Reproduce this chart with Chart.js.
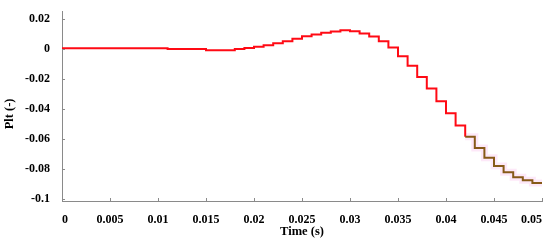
<!DOCTYPE html>
<html>
<head>
<meta charset="utf-8">
<script src="https://cdn.jsdelivr.net/npm/chart.js@4"></script>
<style>
  html, body { margin: 0; padding: 0; background: #fff; }
  #wrap { width: 550px; height: 241px; }
</style>
</head>
<body>
<div id="wrap"><canvas id="pltChart"></canvas></div>
<script>
// time (s), one sample per ms, value held until the next sample
const times = [
  0, 0.001, 0.002, 0.003, 0.004, 0.005, 0.006, 0.007, 0.008, 0.009,
  0.010, 0.011, 0.012, 0.013, 0.014, 0.015, 0.016, 0.017, 0.018, 0.019,
  0.020, 0.021, 0.022, 0.023, 0.024, 0.025, 0.026, 0.027, 0.028, 0.029,
  0.030, 0.031, 0.032, 0.033, 0.034, 0.035, 0.036, 0.037, 0.038, 0.039,
  0.040, 0.041, 0.042, 0.043, 0.044, 0.045, 0.046, 0.047, 0.048, 0.049,
  0.050,
];
const plt = [
  0.0005, 0.0005, 0.0005, 0.0005, 0.0005, 0.0005, 0.0005, 0.0005, 0.0005, 0.0005,
  0.0005, 0.0, 0.0, 0.0, 0.0, -0.0009, -0.0009, -0.0009, 0.0, 0.0007,
  0.0015, 0.0025, 0.0039, 0.0052, 0.0068, 0.0085, 0.0097, 0.0108, 0.0117, 0.0125,
  0.0118, 0.0103, 0.0084, 0.0052, 0.001, -0.0048, -0.0112, -0.0187, -0.0263, -0.0348,
  -0.0428, -0.051, -0.0585, -0.066, -0.0725, -0.0779, -0.0822, -0.0854, -0.0875, -0.0893,
  -0.0893,
];
const xTicks = [0, 0.005, 0.01, 0.015, 0.02, 0.025, 0.03, 0.035, 0.04, 0.045, 0.05];
const xTickLabels = ["0", "0.005", "0.01", "0.015", "0.02", "0.025", "0.03", "0.035", "0.04", "0.045", "0.05"];
const yTicks = [0.02, 0, -0.02, -0.04, -0.06, -0.08, -0.1];
const yTickLabels = ["0.02", "0", "-0.02", "-0.04", "-0.06", "-0.08", "-0.1"];
const brownFrom = 0.042;

const red = "#ff0a14";
const brown = "#875a18";
const axisColor = "#8a8a8a";
const font = { family: "'Liberation Serif', serif", weight: "bold" };

const points = times.map((t, i) => ({ x: t, y: plt[i] }));
const tailPoints = points.filter((p) => p.x >= brownFrom);

// small tick marks pointing into the plot, like the original figure
const innerTicks = {
  id: "innerTicks",
  afterDraw(chart) {
    const { ctx, chartArea, scales } = chart;
    ctx.save();
    ctx.strokeStyle = axisColor;
    ctx.lineWidth = 1;
    ctx.beginPath();
    xTicks.forEach((v) => {
      const px = Math.round(scales.x.getPixelForValue(v)) + 0.5;
      ctx.moveTo(px, chartArea.bottom);
      ctx.lineTo(px, chartArea.bottom - 3);
    });
    yTicks.forEach((v) => {
      const py = Math.round(scales.y.getPixelForValue(v)) + 0.5;
      ctx.moveTo(chartArea.left, py);
      ctx.lineTo(chartArea.left + 3, py);
    });
    ctx.stroke();
    ctx.restore();
  },
};

new Chart(document.getElementById("pltChart").getContext("2d"), {
  type: "line",
  data: {
    datasets: [
      {
        data: points,
        stepped: true,
        borderWidth: 2,
        borderColor: red,
        pointRadius: 0,
        segment: {
          borderColor: (c) => (c.p0.parsed.x >= brownFrom - 0.0001 ? brown : red),
        },
      },
      {
        data: tailPoints,
        stepped: true,
        borderWidth: 7,
        borderColor: "rgba(250, 205, 240, 0.45)",
        pointRadius: 0,
      },
    ],
  },
  options: {
    responsive: true,
    maintainAspectRatio: false,
    animation: false,
    layout: { padding: { top: 5, right: 8, left: 0, bottom: 0 } },
    plugins: { legend: { display: false }, tooltip: { enabled: false } },
    scales: {
      x: {
        type: "linear",
        min: 0,
        max: 0.05,
        afterBuildTicks: (s) => { s.ticks = xTicks.map((v) => ({ value: v })); },
        afterFit: (s) => {
          s.height = 40;
          s.paddingLeft = 0;
          s.paddingRight = 0;
        },
        grid: { display: false },
        border: { display: true, color: axisColor, width: 1 },
        ticks: {
          autoSkip: false,
          maxRotation: 0,
          align: "inner",
          padding: 4,
          color: "#000",
          font: { ...font, size: 12 },
          callback: (v) => xTickLabels[xTicks.indexOf(v)],
        },
        title: {
          display: true,
          text: "Time (s)",
          color: "#000",
          font: { ...font, size: 12.5 },
          padding: { top: 0, bottom: 2 },
        },
      },
      y: {
        type: "linear",
        min: -0.1013,
        max: 0.0252,
        afterBuildTicks: (s) => { s.ticks = yTicks.map((v) => ({ value: v })); },
        afterFit: (s) => { s.width = 62; },
        grid: { display: false },
        border: { display: true, color: axisColor, width: 1 },
        ticks: {
          padding: 4,
          color: "#000",
          font: { ...font, size: 12 },
          callback: (v) => yTickLabels[yTicks.indexOf(v)],
        },
        title: {
          display: true,
          text: "Plt (-)     ",
          color: "#000",
          font: { ...font, size: 12.5 },
          padding: { top: 2, bottom: 0 },
        },
      },
    },
  },
  plugins: [innerTicks],
});
</script>
</body>
</html>
